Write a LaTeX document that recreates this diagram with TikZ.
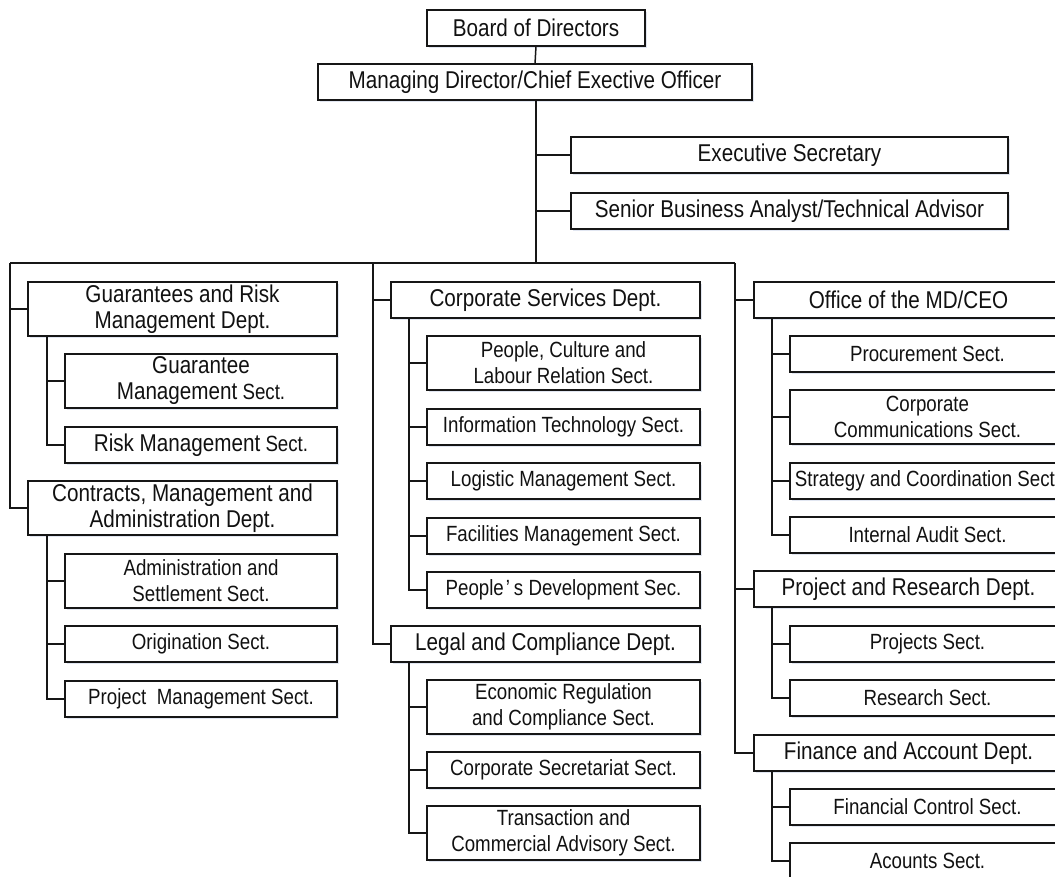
\documentclass[tikz,border=0pt]{standalone}
\usepackage{fontspec}
\setmainfont{Liberation Sans}[FakeStretch=0.85]
\usetikzlibrary{shadows}

% type sizes for department-level and section-level labels
\newcommand\txtdept{\fontsize{24.3}{25.5}\selectfont}
\newcommand\txtsect{\fontsize{22}{26}\selectfont}

\definecolor{inkline}{HTML}{161616}
\definecolor{inktext}{HTML}{111111}
\definecolor{shade}{HTML}{C9D3E6}

\tikzset{
  orgbox/.style={draw=inkline, line width=1.1pt, fill=white, inner sep=0pt,
    outer sep=0pt, anchor=north west, align=center, text=inktext,
    drop shadow={shadow xshift=1.5pt, shadow yshift=-2pt, fill=shade, opacity=0.55}},
  onerow/.style={minimum height=36pt},
  tworow/.style={minimum height=54pt},
  topbox/.style={orgbox, onerow, font=\txtdept},
  deptbox/.style={orgbox, minimum width=309pt, font=\txtdept},
  sectL/.style={orgbox, minimum width=272pt, font=\txtsect},
  sectM/.style={orgbox, minimum width=273pt, font=\txtsect},
  sectR/.style={orgbox, minimum width=275pt, font=\txtsect},
  link/.style={draw=inkline, line width=1.5pt},
}

\begin{document}
\begin{tikzpicture}[x=1pt, y=-1pt]
\clip (0,0) rectangle (1055,877);
\fill[white] (0,0) rectangle (1055,877);

% ---- top of the chart
\node[topbox, minimum width=218pt] (board) at (427,10) {Board of Directors};
\node[topbox, minimum width=434pt] (md) at (318,64) {Managing Director/Chief Exective Officer};
\node[topbox, minimum width=437pt] (exec) at (571,137) {Executive Secretary};
\node[topbox, minimum width=437pt] (senior) at (571,193) {Senior Business Analyst/Technical Advisor};

% ---- left column
\node[deptbox, tworow] (grd) at (28,282) {Guarantees and Risk\\Management Dept.};
\node[sectL, tworow] (gms) at (65,354) {{\txtdept Guarantee}\\{\txtdept Management} Sect.};
\node[sectL, onerow] (rms) at (65,427) {{\txtdept Risk Management} Sect.};
\node[deptbox, tworow] (cmad) at (28,481) {Contracts, Management and\\Administration Dept.};
\node[sectL, tworow] (ass) at (65,554) {Administration and\\Settlement Sect.};
\node[sectL, onerow] (ors) at (65,626) {Origination Sect.};
\node[sectL, onerow] (pms) at (65,681) {Project\ \ Management Sect.};

% ---- middle column
\node[deptbox, onerow] (csd) at (391,282) {Corporate Services Dept.};
\node[sectM, tworow] (pcl) at (427,336) {People, Culture and\\Labour Relation Sect.};
\node[sectM, onerow] (its) at (427,409) {Information Technology Sect.};
\node[sectM, onerow] (lms) at (427,463) {Logistic Management Sect.};
\node[sectM, onerow] (fms) at (427,518) {Facilities Management Sect.};
\node[sectM, onerow] (pds) at (427,572) {People\kern2pt’\kern4pt s Development Sec.};
\node[deptbox, onerow] (lcd) at (391,626) {Legal and Compliance Dept.};
\node[sectM, tworow] (erc) at (427,680) {Economic Regulation\\and Compliance Sect.};
\node[sectM, onerow] (css) at (427,752) {Corporate Secretariat Sect.};
\node[sectM, tworow] (tca) at (427,806) {Transaction and\\Commercial Advisory Sect.};

% ---- right column (boxes run past the right edge)
\node[deptbox, onerow] (omd) at (754,282) {Office of the MD/CEO};
\node[sectR, onerow] (prs) at (790,336) {Procurement Sect.};
\node[sectR, tworow] (ccs) at (790,390) {Corporate\\Communications Sect.};
\node[sectR, onerow] (scs) at (790,463) {Strategy and Coordination Sect.};
\node[sectR, onerow] (ias) at (790,517) {Internal Audit Sect.};
\node[deptbox, onerow] (prd) at (754,571) {Project and Research Dept.};
\node[sectR, onerow] (pjs) at (790,626) {Projects Sect.};
\node[sectR, onerow] (res) at (790,680) {Research Sect.};
\node[deptbox, onerow] (fad) at (754,735) {Finance and Account Dept.};
\node[sectR, onerow] (fcs) at (790,789) {Financial Control Sect.};
\node[sectR, onerow] (acs) at (790,843) {Acounts Sect.};

% ---- junction points of the main trunk and the bus
\coordinate (trunk) at (536,263);
\coordinate (busL) at (10,263);
\coordinate (busM) at (373,263);
\coordinate (busR) at (735,263);

% ---- main connectors
\draw[link] (board.south) -- (md.north);
\draw[link] (md.south -| trunk) -- (trunk);
\draw[link] (exec.west) -- (exec.west -| trunk);
\draw[link] (senior.west) -- (senior.west -| trunk);
\draw[link] (busL) -- (busR);

% department branches
\draw[link] (busL) |- (cmad.west);
\draw[link] (grd.west) -- (grd.west -| busL);
\draw[link] (busM) |- (lcd.west);
\draw[link] (csd.west) -- (csd.west -| busM);
\draw[link] (busR) |- (fad.west);
\draw[link] (omd.west) -- (omd.west -| busR);
\draw[link] (prd.west) -- (prd.west -| busR);

% section branches hang from each department
\coordinate (grdv) at ([xshift=19pt]grd.south west);
\draw[link] (grdv) |- (rms.west);
\draw[link] (gms.west) -- (gms.west -| grdv);

\coordinate (cmadv) at ([xshift=19pt]cmad.south west);
\draw[link] (cmadv) |- (pms.west);
\draw[link] (ass.west) -- (ass.west -| cmadv);
\draw[link] (ors.west) -- (ors.west -| cmadv);

\coordinate (csdv) at ([xshift=18pt]csd.south west);
\draw[link] (csdv) |- (pds.west);
\foreach \s in {pcl,its,lms,fms} \draw[link] (\s.west) -- (\s.west -| csdv);

\coordinate (lcdv) at ([xshift=18pt]lcd.south west);
\draw[link] (lcdv) |- (tca.west);
\foreach \s in {erc,css} \draw[link] (\s.west) -- (\s.west -| lcdv);

\coordinate (omdv) at ([xshift=18pt]omd.south west);
\draw[link] (omdv) |- (ias.west);
\foreach \s in {prs,ccs,scs} \draw[link] (\s.west) -- (\s.west -| omdv);

\coordinate (prdv) at ([xshift=18pt]prd.south west);
\draw[link] (prdv) |- (res.west);
\draw[link] (pjs.west) -- (pjs.west -| prdv);

\coordinate (fadv) at ([xshift=18pt]fad.south west);
\draw[link] (fadv) |- (acs.west);
\draw[link] (fcs.west) -- (fcs.west -| fadv);
\end{tikzpicture}
\end{document}
